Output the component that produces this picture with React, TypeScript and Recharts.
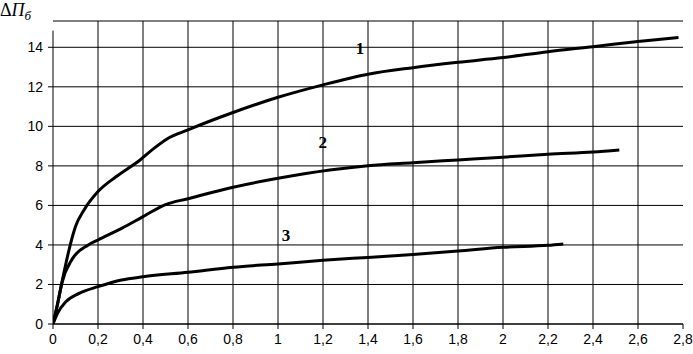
import { LineChart, Line, XAxis, YAxis, CartesianGrid, ReferenceLine, ReferenceDot } from "recharts";

// curve 1
const curve1X = [0, 0.02, 0.045, 0.071, 0.1, 0.138, 0.2, 0.28, 0.387, 0.45, 0.505, 0.6, 0.8, 1.0, 1.2, 1.4, 1.6, 1.8, 2.0, 2.2, 2.4, 2.6, 2.78];
const curve1Y = [0, 1.0, 2.4, 3.74, 4.93, 5.77, 6.7, 7.45, 8.3, 8.9, 9.35, 9.82, 10.7, 11.47, 12.1, 12.64, 12.97, 13.24, 13.48, 13.78, 14.03, 14.29, 14.49];

// curve 2
const curve2X = [0, 0.02, 0.039, 0.083, 0.157, 0.2, 0.305, 0.4, 0.5, 0.6, 0.8, 1.0, 1.23, 1.4, 1.6, 1.8, 2.0, 2.2, 2.4, 2.517];
const curve2Y = [0, 1.0, 2.06, 3.24, 4.0, 4.25, 4.84, 5.43, 6.04, 6.34, 6.92, 7.37, 7.79, 8.01, 8.16, 8.3, 8.44, 8.59, 8.7, 8.8];

// curve 3
const curve3X = [0, 0.02, 0.057, 0.116, 0.2, 0.305, 0.4, 0.6, 0.8, 1.0, 1.2, 1.4, 1.6, 1.8, 2.0, 2.2, 2.268];
const curve3Y = [0, 0.54, 1.13, 1.55, 1.89, 2.23, 2.39, 2.62, 2.87, 3.04, 3.22, 3.37, 3.52, 3.69, 3.88, 3.98, 4.05];

const xTicks = [0, 0.2, 0.4, 0.6, 0.8, 1, 1.2, 1.4, 1.6, 1.8, 2, 2.2, 2.4, 2.6, 2.8];
const yTicks = [0, 2, 4, 6, 8, 10, 12, 14];

// curve number labels: [text, x, y]
const curveLabels: [string, number, number][] = [
  ["1", 1.364, 13.97],
  ["2", 1.199, 9.23],
  ["3", 1.036, 4.5],
];

const toData = (xs: number[], ys: number[]) => xs.map((x, i) => ({ x, y: ys[i] }));
const data1 = toData(curve1X, curve1Y);
const data2 = toData(curve2X, curve2Y);
const data3 = toData(curve3X, curve3Y);

const fmt = (v: number) => String(Math.round(v * 10) / 10).replace(".", ",");
const tickStyle = { fill: "#000", fontSize: 14, fontFamily: "Liberation Sans, Arial, sans-serif" };

export default function App() {
  return (
    <div style={{ position: "absolute", left: 0, top: 0, width: 693, height: 354, background: "#fff" }}>
      <LineChart width={693} height={354} data={data1} margin={{ top: 21, right: 10, bottom: 0, left: 0 }}>
        <CartesianGrid stroke="#000" strokeWidth={1} vertical={false} />
        {/* vertical grid lines, skipping the axis and the last tick */}
        {xTicks.slice(1, -1).map((t) => (
          <ReferenceLine key={"v" + t} x={t} stroke="#000" strokeWidth={1} />
        ))}
        <XAxis
          type="number"
          dataKey="x"
          domain={[0, 2.8]}
          ticks={xTicks}
          tickFormatter={fmt}
          allowDataOverflow
          height={30}
          tickSize={5}
          tickMargin={5}
          stroke="#000"
          tick={tickStyle}
          axisLine={{ stroke: "#000" }}
          tickLine={{ stroke: "#000" }}
        />
        <YAxis
          type="number"
          domain={[0, 15.33]}
          ticks={yTicks}
          allowDataOverflow
          width={53}
          tickSize={5}
          tickMargin={5}
          tick={tickStyle}
          axisLine={false}
          tickLine={{ stroke: "#000" }}
        />
        <ReferenceLine segment={[{ x: 0, y: 0 }, { x: 0, y: 14.84 }]} stroke="#000" strokeWidth={1} />
        <Line data={data1} dataKey="y" type="monotone" stroke="#000" strokeWidth={3} dot={false} isAnimationActive={false} />
        <Line data={data2} dataKey="y" type="monotone" stroke="#000" strokeWidth={3} dot={false} isAnimationActive={false} />
        <Line data={data3} dataKey="y" type="monotone" stroke="#000" strokeWidth={3} dot={false} isAnimationActive={false} />
        {curveLabels.map(([t, x, y]) => (
          <ReferenceDot
            key={t}
            x={x}
            y={y}
            r={1}
            fill="none"
            stroke="none"
            label={{
              value: t,
              position: "center",
              fill: "#000",
              fontSize: 17,
              fontWeight: "bold",
              fontFamily: "Liberation Serif, Times New Roman, serif",
            }}
          />
        ))}
      </LineChart>
      <svg width={60} height={28} style={{ position: "absolute", left: 0, top: 0, overflow: "visible" }}>
        <text x={0} y={16} fontSize={18} fontFamily="Liberation Serif, Times New Roman, serif" fill="#000">
          Δ<tspan fontStyle="italic">П</tspan>
          <tspan fontStyle="italic" fontSize={13} dy={4}>б</tspan>
        </text>
      </svg>
    </div>
  );
}
